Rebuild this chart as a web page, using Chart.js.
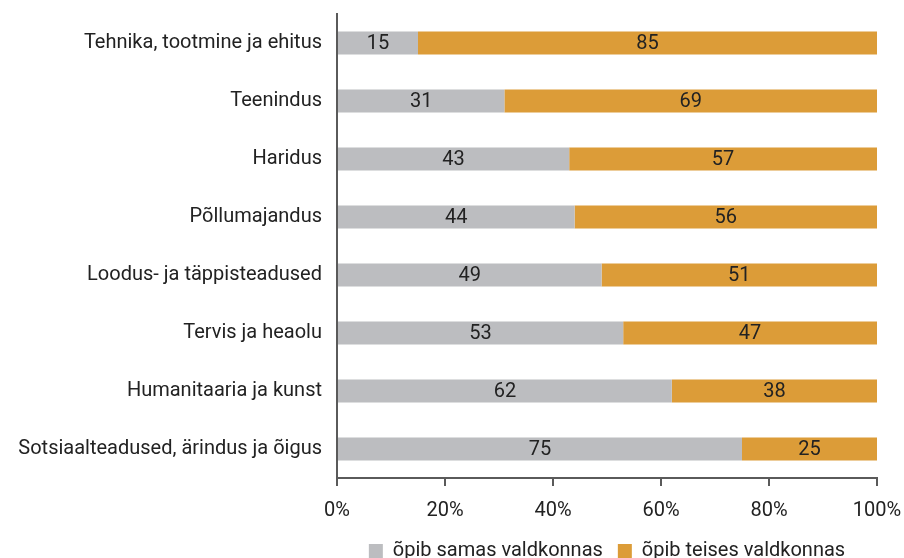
<!DOCTYPE html>
<html>
<head>
<meta charset="utf-8">
<script src="https://cdn.jsdelivr.net/npm/chart.js@4.4.1/dist/chart.umd.min.js"></script>
<style>
  html, body { margin: 0; padding: 0; background: #fff; }
  #wrap { width: 904px; height: 558px; }
</style>
</head>
<body>
<div id="wrap"><canvas id="chart" width="904" height="558"></canvas></div>
<script>
var categories = [
  'Tehnika, tootmine ja ehitus',
  'Teenindus',
  'Haridus',
  'Põllumajandus',
  'Loodus- ja täppisteadused',
  'Tervis ja heaolu',
  'Humanitaaria ja kunst',
  'Sotsiaalteadused, ärindus ja õigus'
]
var samas = [15, 31, 43, 44, 49, 53, 62, 75]
var teises = [85, 69, 57, 56, 51, 47, 38, 25]
var xTicks = [0, 20, 40, 60, 80, 100]
var seriesNames = ['õpib samas valdkonnas', 'õpib teises valdkonnas']

var fontName = 'Roboto'
var fontSize = 20
var textColor = '#222'
var axisColor = '#5a5a5a'

// numbers in the middle of each bar piece
var barLabels = {
  id: 'barLabels',
  beforeInit: function (chart) {
    // make the legend box a fixed height so it sits near the bottom
    var lg = chart.legend
    if (lg) {
      var f = lg.fit
      lg.fit = function () { f.call(this); this.height = 32 }
    }
  },
  afterDatasetsDraw: function (chart) {
    var ctx = chart.ctx
    ctx.save()
    ctx.font = fontSize + 'px ' + fontName
    ctx.fillStyle = textColor
    ctx.textAlign = 'center'
    ctx.textBaseline = 'middle'
    chart.data.datasets.forEach(function (ds, i) {
      chart.getDatasetMeta(i).data.forEach(function (bar, j) {
        var x = (bar.x + bar.base) / 2
        ctx.fillText(ds.data[j], x, bar.y + 1)
      })
    })
    ctx.restore()
  }
}

var ctx = document.getElementById('chart').getContext('2d')
var myChart = new Chart(ctx, {
  type: 'bar',
  data: {
    labels: categories,
    datasets: [{
      label: seriesNames[0],
      data: samas,
      backgroundColor: '#bcbdc0',
      barPercentage: 0.4,
      categoryPercentage: 1
    }, {
      label: seriesNames[1],
      data: teises,
      backgroundColor: '#dc9c38',
      barPercentage: 0.4,
      categoryPercentage: 1
    }]
  },
  options: {
    indexAxis: 'y',
    responsive: false,
    animation: false,
    layout: { padding: { top: 14, right: 27, left: 0, bottom: 0 } },
    plugins: {
      tooltip: { enabled: false },
      legend: {
        position: 'bottom',
        fullSize: false,
        labels: {
          font: { family: fontName, size: fontSize },
          color: textColor,
          boxWidth: 14,
          boxHeight: 14,
          padding: 15
        }
      }
    },
    scales: {
      x: {
        stacked: true,
        min: 0,
        max: 100,
        afterBuildTicks: function (s) {
          s.ticks = xTicks.map(function (v) { return { value: v } })
        },
        afterFit: function (s) {
          s.height = 48
          s.paddingLeft = 0
          s.paddingRight = 0
        },
        border: { display: true, color: axisColor, width: 2 },
        grid: { drawOnChartArea: false, drawTicks: true, tickLength: 8, color: axisColor, lineWidth: 2 },
        ticks: {
          font: { family: fontName, size: fontSize },
          color: textColor,
          padding: 13,
          maxRotation: 0,
          callback: function (v) { return v + '%' }
        }
      },
      y: {
        stacked: true,
        afterFit: function (s) {
          s.width = 337
          s.paddingTop = 0
          s.paddingBottom = 0
        },
        border: { display: true, color: axisColor, width: 2 },
        grid: { display: false, drawTicks: false },
        ticks: {
          font: { family: fontName, size: fontSize },
          color: textColor,
          padding: 15
        }
      }
    }
  },
  plugins: [barLabels]
})
</script>
</body>
</html>
